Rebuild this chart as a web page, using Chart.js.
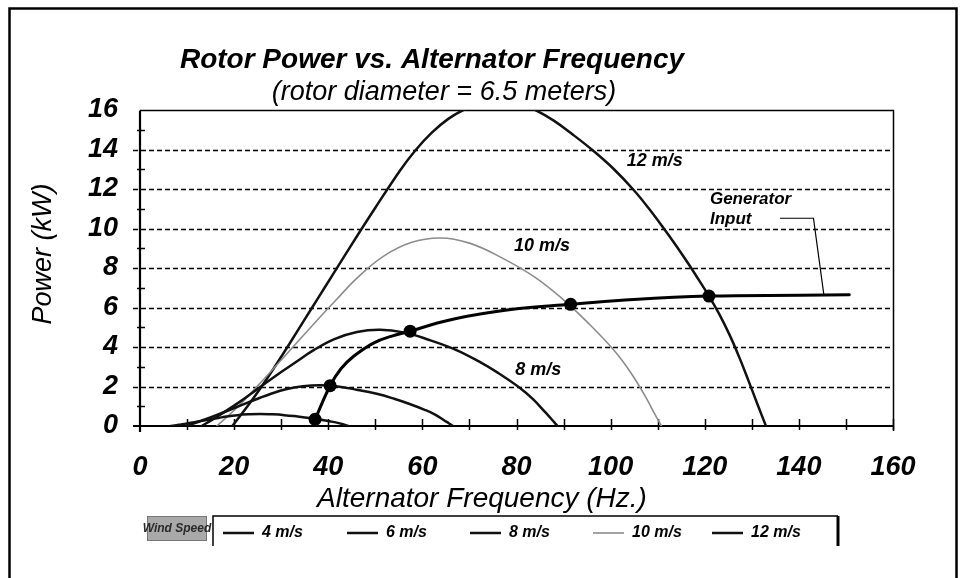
<!DOCTYPE html>
<html>
<head>
<meta charset="utf-8">
<script src="https://cdn.jsdelivr.net/npm/chart.js@4.4.0/dist/chart.umd.min.js"></script>
<style>
html,body{margin:0;padding:0;background:#fff;}
#wrap{width:961px;height:578px;position:relative;}
</style>
</head>
<body>
<div id="wrap"><canvas id="c" width="961" height="578"></canvas></div>
<script>
// ---------- text ----------
const titleText = 'Rotor Power vs. Alternator Frequency';
const subtitleText = '(rotor diameter = 6.5 meters)';
const xTitle = 'Alternator Frequency (Hz.)';
const yTitle = 'Power (kW)';
const legendTitle = 'Wind Speed';
const generatorLabel = ['Generator', 'Input'];

// ---------- tick labels ----------
const xTicks = [0, 20, 40, 60, 80, 100, 120, 140, 160];
const yTicks = [0, 2, 4, 6, 8, 10, 12, 14, 16];

// ---------- series (x = Hz, y = kW) ----------
const seriesNames = ['4 m/s', '6 m/s', '8 m/s', '10 m/s', '12 m/s'];
const speed4 = [[6.5,0],[7.7,0.04],[8.7,0.08],[10.5,0.15],[12.6,0.24],[15,0.34],[16.7,0.41],[18.4,0.48],[20.7,0.55],[23,0.59],[25.5,0.61],[28,0.59],[30.7,0.55],[33.5,0.48],[36,0.41],[38,0.34],[40.3,0.24],[41.8,0.17],[43.1,0.09],[43.7,0.04],[44.3,0]];
const speed6 = [[9.8,0],[11.5,0.13],[13,0.26],[15.8,0.51],[19,0.81],[22.5,1.15],[25,1.38],[27.7,1.62],[31,1.86],[34.6,2.01],[38.3,2.06],[42,2],[46,1.84],[50.3,1.63],[54,1.38],[57,1.14],[60.5,0.82],[62.7,0.58],[64.6,0.29],[65.6,0.14],[66.5,0]];
const speed8 = [[13.1,0],[15.3,0.31],[17.3,0.61],[21.1,1.21],[25.3,1.93],[30,2.73],[33.3,3.27],[36.9,3.84],[41.3,4.4],[46.1,4.76],[51,4.87],[56,4.74],[61.3,4.37],[67,3.87],[72,3.27],[76,2.7],[80.6,1.95],[83.5,1.36],[86.1,0.7],[87.5,0.33],[88.7,0]];
const speed10 = [[16.3,0],[19.2,0.61],[21.7,1.19],[26.3,2.37],[31.6,3.76],[37.5,5.32],[41.7,6.39],[46.1,7.49],[51.7,8.59],[57.6,9.29],[63.8,9.52],[70,9.26],[76.7,8.54],[83.8,7.55],[90,6.39],[95,5.27],[100.8,3.81],[104.4,2.66],[107.7,1.36],[109.3,0.64],[110.8,0]];
const speed12 = [[19.6,0],[23,1.05],[26,2.05],[28.5,2.95],[31.6,4.1],[35,5.4],[37.9,6.5],[41,7.68],[45,9.2],[50,11.05],[55.3,12.95],[58.5,13.95],[62,14.85],[65.5,15.55],[69.1,16.05],[72.5,16.35],[76.5,16.45],[80.5,16.3],[84,16],[88,15.45],[92,14.75],[96.5,13.9],[100.5,13.05],[104.9,11.95],[108,11.05],[111,10.1],[114,9.1],[116.7,8.15],[118.8,7.37],[120.9,6.58],[123,5.7],[125.3,4.6],[127.3,3.5],[129.2,2.35],[131.2,1.1],[133,0]];
const generatorInput = [[37.2,0.34],[40.4,2.04],[42.7,2.9],[45.4,3.53],[49.6,4.2],[53.5,4.55],[57.4,4.8],[63,5.2],[69.5,5.56],[80.1,5.94],[91.5,6.16],[104.9,6.41],[120.9,6.58],[140.4,6.62],[150.7,6.64]];
const operatingPoints = [[37.2,0.34],[40.4,2.04],[57.4,4.8],[91.5,6.16],[120.9,6.58]];

// in-plot labels: [text, x (Hz), y (kW)]
const curveLabels = [['12 m/s', 109.4, 13.4], ['10 m/s', 85.4, 9.1], ['8 m/s', 84.6, 2.85]];

const FONT = "'Liberation Sans', Arial, Helvetica, sans-serif";
const pts = a => a.map(p => ({x: p[0], y: p[1]}));

const curveStyle = (color, width) => ({
  showLine: true, borderColor: color, backgroundColor: color, borderWidth: width,
  pointRadius: 0, pointHoverRadius: 0, fill: false, tension: 0.4, borderCapStyle: 'round', borderJoinStyle: 'round'
});

const datasets = [
  Object.assign({label: 'Operating points', data: pts(operatingPoints), showLine: false,
    pointRadius: 6.5, pointBackgroundColor: '#000', pointBorderColor: '#000', pointBorderWidth: 0}),
  Object.assign({label: 'Generator Input', data: pts(generatorInput)}, curveStyle('#000', 3)),
  Object.assign({label: seriesNames[0], data: pts(speed4)}, curveStyle('#111', 2.5)),
  Object.assign({label: seriesNames[1], data: pts(speed6)}, curveStyle('#111', 2.5)),
  Object.assign({label: seriesNames[2], data: pts(speed8)}, curveStyle('#111', 2.5)),
  Object.assign({label: seriesNames[3], data: pts(speed10)}, curveStyle('#8c8c8c', 1.6)),
  Object.assign({label: seriesNames[4], data: pts(speed12)}, curveStyle('#111', 2.5))
];

const decor = {
  id: 'decor',
  beforeDatasetsDraw(chart) {
    const {ctx, chartArea: a, scales: {x, y}} = chart;
    ctx.save();
    // outer frame
    ctx.strokeStyle = '#000';
    ctx.lineWidth = 2.5;
    ctx.beginPath();
    ctx.moveTo(9.5, 578); ctx.lineTo(9.5, 8.5); ctx.lineTo(956.5, 8.5); ctx.lineTo(956.5, 578);
    ctx.stroke();
    // dashed horizontal grid
    ctx.lineWidth = 1.6;
    ctx.setLineDash([5, 3]);
    yTicks.forEach(v => {
      if (v === yTicks[0] || v === yTicks[yTicks.length - 1]) return;
      const py = Math.round(y.getPixelForValue(v)) + 0.5;
      ctx.beginPath(); ctx.moveTo(a.left - 7, py); ctx.lineTo(a.right, py); ctx.stroke();
    });
    ctx.setLineDash([]);
    // top + right border
    ctx.lineWidth = 1.5;
    const pt = Math.round(y.getPixelForValue(16)) + 0.5;
    const pr = Math.round(x.getPixelForValue(160)) + 0.5;
    ctx.beginPath(); ctx.moveTo(a.left, pt); ctx.lineTo(pr, pt); ctx.lineTo(pr, a.bottom + 5); ctx.stroke();
    // y axis line
    ctx.lineWidth = 2.2;
    const p0 = Math.round(x.getPixelForValue(0));
    ctx.beginPath(); ctx.moveTo(p0, pt); ctx.lineTo(p0, a.bottom + 6); ctx.stroke();
    // x axis line
    const b0 = Math.round(y.getPixelForValue(0));
    ctx.beginPath(); ctx.moveTo(a.left - 7, b0); ctx.lineTo(pr, b0); ctx.stroke();
    // minor y ticks (odd kW)
    ctx.lineWidth = 1.5;
    for (let v = 1; v < 16; v += 2) {
      const py = Math.round(y.getPixelForValue(v)) + 0.5;
      ctx.beginPath(); ctx.moveTo(p0 - 3, py); ctx.lineTo(p0 + 5, py); ctx.stroke();
    }
    // x ticks every 10 Hz
    for (let v = 10; v <= 160; v += 10) {
      const px = Math.round(x.getPixelForValue(v)) + 0.5;
      ctx.beginPath(); ctx.moveTo(px, b0 - 7); ctx.lineTo(px, b0 + 4); ctx.stroke();
    }
    ctx.restore();
  },
  afterDraw(chart) {
    const {ctx, scales: {x, y}} = chart;
    ctx.save();
    ctx.fillStyle = '#000';
    // chart title + subtitle
    ctx.textAlign = 'center';
    ctx.textBaseline = 'alphabetic';
    ctx.font = `italic bold 28px ${FONT}`;
    ctx.fillText(titleText, 432, 68);
    ctx.font = `italic 27px ${FONT}`;
    ctx.fillText(subtitleText, 444, 100);
    // axis titles
    ctx.font = `italic 28px ${FONT}`;
    ctx.fillText(xTitle, 482, 507);
    ctx.save();
    ctx.translate(43, 254);
    ctx.rotate(-Math.PI / 2);
    ctx.font = `italic 27px ${FONT}`;
    ctx.textBaseline = 'middle';
    ctx.fillText(yTitle, 0, 0);
    ctx.restore();
    // curve labels
    ctx.font = `italic bold 18px ${FONT}`;
    ctx.textBaseline = 'middle';
    curveLabels.forEach(l => ctx.fillText(l[0], x.getPixelForValue(l[1]), y.getPixelForValue(l[2])));
    // generator input label + leader
    ctx.textAlign = 'left';
    ctx.font = `italic bold 17px ${FONT}`;
    ctx.fillText(generatorLabel[0], x.getPixelForValue(121.1), y.getPixelForValue(11.5));
    ctx.fillText(generatorLabel[1], x.getPixelForValue(121.1), y.getPixelForValue(10.45));
    ctx.strokeStyle = '#000';
    ctx.lineWidth = 1.2;
    ctx.beginPath();
    ctx.moveTo(x.getPixelForValue(136), y.getPixelForValue(10.52));
    ctx.lineTo(x.getPixelForValue(143.1), y.getPixelForValue(10.52));
    ctx.lineTo(x.getPixelForValue(145.3), y.getPixelForValue(6.66));
    ctx.stroke();

    // legend
    const lx = 213, lt = 516, lr = 838, lb = 546;
    ctx.fillStyle = '#a9a9a9';
    ctx.fillRect(147, lt, 60, 25);
    ctx.strokeStyle = '#777'; ctx.lineWidth = 1;
    ctx.strokeRect(147.5, lt + 0.5, 59, 24);
    ctx.fillStyle = '#2a2a2a';
    ctx.font = `italic bold 12px ${FONT}`;
    ctx.textAlign = 'center';
    ctx.fillText(legendTitle, 177, lt + 13);
    ctx.strokeStyle = '#000';
    ctx.lineWidth = 1.5;
    ctx.beginPath(); ctx.moveTo(lx, lb); ctx.lineTo(lx, lt); ctx.lineTo(lr, lt); ctx.stroke();
    ctx.lineWidth = 3;
    ctx.beginPath(); ctx.moveTo(lr, lt); ctx.lineTo(lr, lb); ctx.stroke();
    const sampleX = [223, 347, 470, 593, 712];
    ctx.font = `italic bold 16px ${FONT}`;
    ctx.textAlign = 'left';
    ctx.fillStyle = '#000';
    seriesNames.forEach((name, i) => {
      const ds = chart.data.datasets.find(d => d.label === name);
      ctx.strokeStyle = ds.borderColor;
      ctx.lineWidth = ds.borderWidth;
      ctx.beginPath(); ctx.moveTo(sampleX[i], 533); ctx.lineTo(sampleX[i] + 31, 533); ctx.stroke();
      ctx.fillText(name, sampleX[i] + 39, 533);
    });
    ctx.restore();
  }
};

new Chart(document.getElementById('c'), {
  type: 'scatter',
  data: {datasets},
  options: {
    responsive: false,
    devicePixelRatio: 1,
    animation: false,
    events: [],
    layout: {padding: {left: 10, right: 68, top: 110, bottom: 0}},
    plugins: {legend: {display: false}, title: {display: false}, tooltip: {enabled: false}},
    scales: {
      x: {
        type: 'linear', min: 0, max: 160,
        afterFit: s => { s.height = 152; },
        afterBuildTicks: s => { s.ticks = xTicks.map(v => ({value: v})); },
        grid: {display: false, drawTicks: false},
        border: {display: false},
        ticks: {color: '#000', padding: 25, maxRotation: 0, font: {family: FONT, size: 27, style: 'italic', weight: 'bold'}}
      },
      y: {
        type: 'linear', min: 0, max: 16,
        afterFit: s => { s.width = 130; },
        afterBuildTicks: s => { s.ticks = yTicks.map(v => ({value: v})); },
        grid: {display: false, drawTicks: false},
        border: {display: false},
        ticks: {color: '#000', padding: 22, font: {family: FONT, size: 27, style: 'italic', weight: 'bold'}}
      }
    }
  },
  plugins: [decor]
});
</script>
</body>
</html>
